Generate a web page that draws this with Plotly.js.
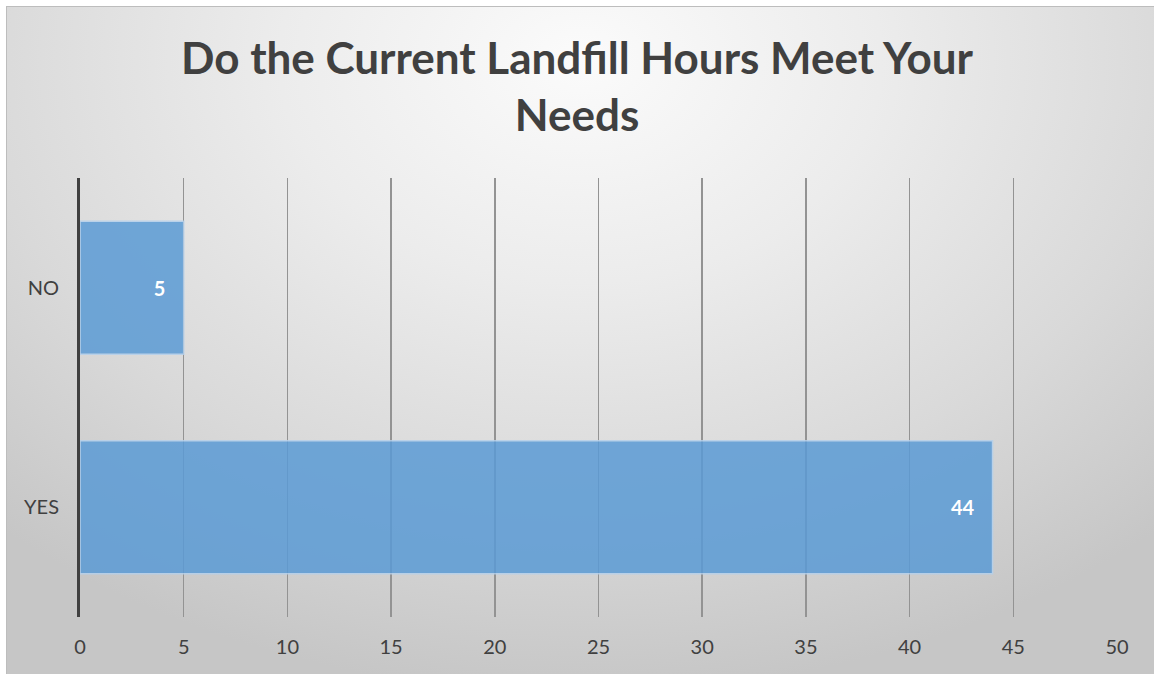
<!DOCTYPE html>
<html>
<head>
<meta charset="utf-8">
<script src="https://cdn.plot.ly/plotly-3.0.1.min.js"></script>
<style>
  html, body { margin: 0; padding: 0; background: #ffffff; }
  #wrap { position: absolute; left: 0; top: 0; width: 1154px; height: 674px; }
  #bg { position: absolute; left: 6px; top: 6px; width: 1148px; height: 668px;
        border-left: 1px solid #bdbdbd; border-top: 1px solid #bdbdbd; box-sizing: border-box;
        background: radial-gradient(ellipse 75% 95% at 50% 8%, #fbfbfb 0%, #ececec 35%, #d9d9d9 70%, #c6c6c6 100%); }
  #chart { position: absolute; left: 0; top: 0; width: 1154px; height: 674px; }
</style>
</head>
<body>
<div id="wrap">
  <div id="bg"></div>
  <div id="chart"></div>
</div>
<script>
const categories = ['NO', 'YES'];
const values = [5, 44];
const xTicks = [0, 5, 10, 15, 20, 25, 30, 35, 40, 45, 50];
const titleText = 'Do the Current Landfill Hours Meet Your<br>Needs';

const pad = '\u00a0\u00a0\u00a0';
const trace = {
  type: 'bar',
  orientation: 'h',
  y: categories,
  x: values,
  text: values.map(v => '<b>' + String(v) + '</b>' + pad),
  textposition: 'inside',
  insidetextanchor: 'end',
  textfont: { family: 'Lato, "Open Sans", sans-serif', size: 20, color: '#ffffff' },
  marker: { color: '#5b9bd5', opacity: 0.85, line: { color: '#b4d0ec', width: 1.5 } },
  hoverinfo: 'skip',
  cliponaxis: false
};

const layout = {
  width: 1154, height: 674,
  paper_bgcolor: 'rgba(0,0,0,0)',
  plot_bgcolor: 'rgba(0,0,0,0)',
  margin: { l: 80, r: 37, t: 178, b: 57 },
  bargap: 0.394,
  showlegend: false,
  title: {
    text: titleText,
    font: { family: 'Lato, "Open Sans", sans-serif', size: 44, color: '#404040', weight: 'bold' },
    x: 0.5, xanchor: 'center',
    y: 0.89, yanchor: 'top', yref: 'container'
  },
  xaxis: {
    range: [0, 50],
    tickvals: xTicks,
    ticktext: xTicks.map(String),
    showgrid: true, gridcolor: '#939393', gridwidth: 1.5,
    zeroline: false, showline: false,
    ticks: '', ticklabelstandoff: 16,
    tickfont: { family: 'Lato, "Open Sans", sans-serif', size: 20, color: '#404040' },
    fixedrange: true
  },
  yaxis: {
    type: 'category',
    categoryorder: 'array',
    categoryarray: categories,
    autorange: 'reversed',
    showgrid: false, zeroline: false,
    showline: true, linecolor: '#404040', linewidth: 3,
    ticks: '', ticklabelstandoff: 14,
    tickfont: { family: 'Lato, "Open Sans", sans-serif', size: 20, color: '#404040' },
    fixedrange: true
  }
};

Plotly.newPlot('chart', [trace], layout, { displayModeBar: false, staticPlot: true });
</script>
</body>
</html>
